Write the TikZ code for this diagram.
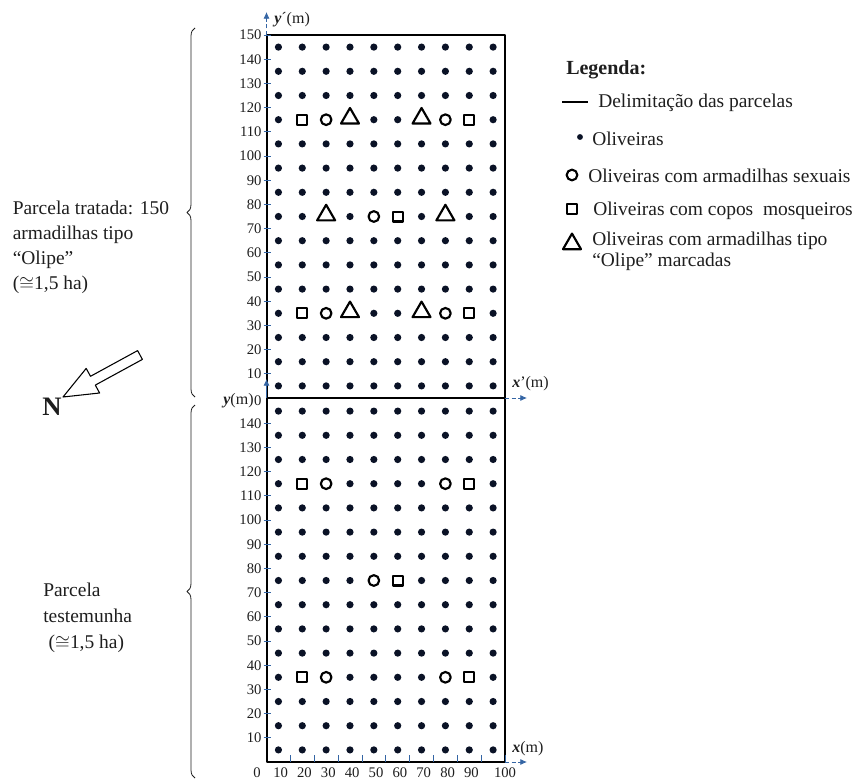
\documentclass[tikz,border=0pt]{standalone}
\usepackage{fontspec}
\setmainfont{Liberation Serif}
\usetikzlibrary{shapes.geometric,decorations.pathreplacing,arrows.meta}

\definecolor{axisblue}{RGB}{52,101,164}
\definecolor{treeink}{RGB}{10,18,38}
\definecolor{ink}{RGB}{30,30,30}

\begin{document}
\begin{tikzpicture}[
  x=0.75pt,
  y=-0.75pt,
  line join=round,
  frame/.style={draw=black,line width=1.5pt},
  tree/.style={circle,fill=treeink,inner sep=0pt,minimum size=5.4pt},
  sextrap/.style={circle,draw=black,fill=white,line width=1.6pt,inner sep=0pt,minimum size=8pt},
  cup/.style={rectangle,draw=black,fill=white,line width=1.6pt,inner sep=0pt,minimum size=7.4pt},
  olipe/.style={regular polygon,regular polygon sides=3,draw=black,fill=white,line width=1.6pt,inner sep=0pt,minimum size=15.6pt,yshift=1pt},
  tickmark/.style={draw=axisblue,line width=0.6pt},
  ticklabel/.style={text=ink,font=\fontsize{11}{13}\selectfont,inner sep=0pt},
  axisline/.style={draw=axisblue,line width=0.6pt,densely dashed,-{Latex[length=5pt,width=4.5pt]}},
  axislabel/.style={text=ink,font=\fontsize{12}{14}\selectfont,inner sep=0pt},
  brace/.style={draw=ink,line width=0.6pt,decorate,decoration={brace,amplitude=6pt}},
  sidetext/.style={text=ink,font=\fontsize{14.6}{18.75}\selectfont,align=left,inner sep=0pt,anchor=north west},
  legtext/.style={text=ink,font=\fontsize{14.6}{15.75}\selectfont,inner sep=0pt,anchor=base west}
]
  \useasboundingbox (0,0) rectangle (859,781);

  % Plot corners.
  \coordinate (sw) at (266.5,762);
  \coordinate (ne) at (505,35);
  \coordinate (mw) at (266.5,398);
  \coordinate (me) at (505,398);
  \coordinate (nw) at (266.5,35);
  \coordinate (se) at (505,762);

  % Plot frames.
  \draw[frame] (sw) rectangle (ne);
  \draw[frame] (mw) -- (me);

  % Trees on a 10 m grid, with cups and sex traps in both plots.
  \foreach \py/\pn in {398/top,762/bot} {
    \begin{scope}[shift={(266.5,\py)},x=1.789pt,y=1.815pt]
      \foreach \i in {5,15,...,95}
        \foreach \j in {5,15,...,145}
          \node[tree] (\pn-\i-\j) at (\i,\j) {};
      \foreach \i/\j in {15/115,85/115,55/75,15/35,85/35}
        \node[cup] (\pn-cup-\i-\j) at (\i,\j) {};
      \foreach \i/\j in {25/115,75/115,45/75,25/35,75/35}
        \node[sextrap] (\pn-sex-\i-\j) at (\i,\j) {};
      % Left axis.
      \foreach \v in {10,20,...,140} {
        \draw[tickmark] (-1.2,\v) -- (1.9,\v);
        \node[ticklabel,anchor=east] (\pn-lab-\v) at (-2,\v) {\v};
      }
    \end{scope}
  }

  % Treated plot only: marked Olipe traps.
  \begin{scope}[shift={(266.5,398)},x=1.789pt,y=1.815pt]
    \foreach \i/\j in {35/115,65/115,25/75,75/75,35/35,65/35}
      \node[olipe] (olipe-\i-\j) at (\i,\j) {};
    \draw[tickmark] (-1.2,150) -- (1.9,150);
    \node[ticklabel,anchor=east] (top-lab-150) at (-2,150) {150};
    \node[ticklabel,anchor=east] (top-lab-0) at (-2,-1.3) {0};
  \end{scope}
  \node[axislabel,anchor=east] (ylab) at (top-lab-0.west) {\textbf{\textit{y}}(m)};

  % Control plot: bottom axis.
  \begin{scope}[shift={(266.5,762)},x=1.789pt,y=1.815pt]
    \foreach \u in {10,20,...,100}
      \draw[tickmark] (\u,0) -- (\u,3);
    \foreach \u in {10,20,...,90}
      \node[ticklabel,anchor=east] (bot-xlab-\u) at (\u-0.9,-4.3) {\u};
    \node[ticklabel] (bot-xlab-100) at (100,-4.3) {100};
    \node[ticklabel] (bot-lab-0) at (-4,-4.3) {0};
  \end{scope}

  % Axis arrows.
  \draw[axisline] (nw) -- ++(0,-23);
  \node[axislabel,anchor=west] (yplab) at (274,20) {\textbf{\textit{y}}´(m)};
  \draw[axisblue,line width=0.6pt,-{Latex[length=5pt,width=4.5pt]}] (mw) -- ++(0,-19);
  \draw[axisline] (me) -- ++(22,0);
  \node[axislabel,anchor=west] (xplab) at (512,384) {\textbf{\textit{x}}’(m)};
  \draw[axisline] (se) -- ++(22,0);
  \node[axislabel,anchor=west] (xlab) at (512,749) {\textbf{\textit{x}}(m)};

  % Braces and plot names.
  \draw[brace] (195,397) -- (195,28);
  \draw[brace] (195,778) -- (195,405);
  \node[sidetext] (treated) at (12.5,201)
    {Parcela tratada: 150\\armadilhas tipo\\“Olipe”\\($\cong$1,5 ha)};
  \node[sidetext,font=\fontsize{14.6}{19.5}\selectfont] (control) at (43,583)
    {Parcela\\testemunha\\\hspace*{4pt}($\cong$1,5 ha)};

  % North arrow.
  \coordinate (n-tip) at (63,397);
  \coordinate (n-h1) at (99.6,393.0);
  \coordinate (n-s1) at (95.3,385.1);
  \coordinate (n-e1) at (142.4,359.4);
  \coordinate (n-e2) at (137.6,350.6);
  \coordinate (n-s2) at (90.5,376.3);
  \coordinate (n-h2) at (86.2,368.4);
  \draw[black,line width=0.8pt,fill=white]
    (n-tip) -- (n-h1) -- (n-s1) -- (n-e1) -- (n-e2) -- (n-s2) -- (n-h2) -- cycle;
  \node[text=ink,font=\bfseries\fontsize{20}{22}\selectfont,inner sep=0pt] (north) at (52,407) {N};

  % Legend.
  \node[legtext,font=\bfseries\fontsize{15}{16}\selectfont] (legend) at (566,75) {Legenda:};
  \coordinate (leg-line) at (562,102);
  \draw[black,line width=1.1pt] (leg-line) -- ++(26,0);
  \node[legtext] (leg-border) at (598,108) {Delimitação das parcelas};
  \node[tree,minimum size=4.4pt] (leg-tree) at (580,137) {};
  \node[legtext] (leg-trees) at (592,146) {Oliveiras};
  \node[sextrap] (leg-sex) at (572,175) {};
  \node[legtext] (leg-sextext) at (588,182) {Oliveiras com armadilhas sexuais};
  \node[cup] (leg-cup) at (572,209) {};
  \node[legtext] (leg-cuptext) at (593,215) {Oliveiras com copos\ \ mosqueiros};
  \node[olipe,yshift=-1pt] (leg-olipe) at (572,244) {};
  \node[legtext,align=left,anchor=north west] (leg-olipetext) at (592,232)
    {Oliveiras com armadilhas tipo\\“Olipe” marcadas};
\end{tikzpicture}
\end{document}
